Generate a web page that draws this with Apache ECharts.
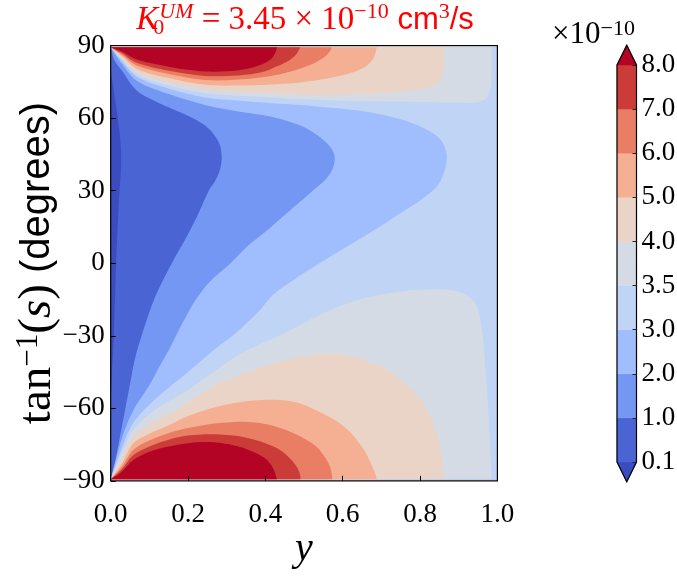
<!DOCTYPE html>
<html><head><meta charset="utf-8">
<script src="https://cdn.jsdelivr.net/npm/echarts@6/dist/echarts.min.js"></script>
<style>html,body{margin:0;padding:0;background:#fff}#c{width:677px;height:576px}</style>
</head><body><div id="c"></div>
<script>
// ---------- data ----------
const levels = [0.1, 1.0, 2.0, 3.0, 3.5, 4.0, 5.0, 6.0, 7.0, 8.0];
const levelLabels = ['0.1','1.0','2.0','3.0','3.5','4.0','5.0','6.0','7.0','8.0'];
// 0: below 0.1, 1: 0.1-1, 2: 1-2, 3: 2-3, 4: 3-3.5, 5: 3.5-4, 6: 4-5, 7: 5-6, 8: 6-7, 9: 7-8, 10: above 8
const bandColors = ['#3b4cc0','#4b64d4','#7597f4','#a0befd','#c0d4f5','#d5dbe5','#ead4c8','#f5b093','#e97e64','#cb3c38','#b40426'];
const xTicks = [0, 0.2, 0.4, 0.6, 0.8, 1.0];
const xTickLabels = ['0.0','0.2','0.4','0.6','0.8','1.0'];
const yTicks = [-90, -60, -30, 0, 30, 60, 90];
const yTickLabels = ['\u221290','\u221260','\u221230','0','30','60','90'];

// contour boundaries: [y, tan^-1(s) in degrees]
const underStrip = [[0,78],[0.004,75.5],[0.012,67],[0.02,58],[0.025,51],[0.027,44],[0.026,37],[0.022,28],[0.018,15],[0.014,0],[0.011,-15],[0.008,-30],[0.004,-43],[0.001,-52],[0,-55]];
const contour1 = [[0,89.4],[0.01,84],[0.03,79.5],[0.071,71],[0.15,64.5],[0.2,61],[0.244,57],[0.268,53],[0.282,49],[0.287,44],[0.283,39],[0.27,34],[0.252,29.5],[0.228,21],[0.2,12],[0.158,0],[0.115,-13.9],[0.08,-30],[0.062,-40],[0.05,-50],[0.038,-60],[0.026,-70],[0.014,-80],[0.005,-86.5],[0,-89.4]];
const contour2 = [[0,89.4],[0.03,82.3],[0.071,75.1],[0.15,70],[0.244,65.5],[0.33,62.8],[0.416,60.6],[0.49,57],[0.53,53.5],[0.56,49.5],[0.578,45],[0.576,40],[0.56,35.5],[0.53,31],[0.46,21.3],[0.4,13],[0.352,6.8],[0.31,0],[0.257,-7.5],[0.22,-15],[0.195,-22],[0.175,-28],[0.15,-36],[0.125,-43],[0.1,-50.5],[0.058,-61],[0.03,-72],[0,-89.4]];
const contour3 = [[0,89.4],[0.03,83.5],[0.071,76.9],[0.15,72.2],[0.244,68.6],[0.33,67.3],[0.416,66.2],[0.49,65.5],[0.57,64.3],[0.662,62.7],[0.74,60],[0.79,57.3],[0.834,53.7],[0.856,50.5],[0.867,46.5],[0.869,43],[0.862,37.5],[0.843,31.6],[0.8,26],[0.748,20.6],[0.68,13.5],[0.61,6.8],[0.54,0],[0.472,-7],[0.42,-13],[0.385,-19.5],[0.35,-25],[0.315,-30],[0.27,-35.5],[0.2,-45],[0.15,-51.5],[0.1,-58.5],[0.058,-66],[0.03,-76],[0,-89.4]];

const top35 = [[0,89.4],[0.03,84.2],[0.071,77.9],[0.15,73.5],[0.244,70.3],[0.33,69.3],[0.416,68.6],[0.49,67.8],[0.6,67.2],[0.7,66.9],[0.8,66.7],[0.88,66.5],[0.938,66.4],[0.965,67.5],[0.978,70],[0.984,75],[0.985,82],[0.985,89.4]];
const top4 = [[0,89.4],[0.03,84.7],[0.071,78.8],[0.15,74.8],[0.244,72],[0.33,71],[0.416,70.3],[0.49,69.7],[0.58,69.6],[0.66,70],[0.748,71],[0.8,72],[0.834,73.2],[0.852,75.5],[0.86,78.6],[0.862,84],[0.862,89.4]];
const top5 = [[0,89.4],[0.03,85.5],[0.071,80.2],[0.15,76.6],[0.244,73.8],[0.33,73.5],[0.416,74],[0.49,74.8],[0.56,76.4],[0.619,78.6],[0.66,81.5],[0.68,85],[0.688,89.4]];
const top6 = [[0,89.4],[0.03,86.2],[0.071,81.6],[0.15,78.3],[0.244,75.8],[0.33,76],[0.416,77.5],[0.47,79.5],[0.52,82.3],[0.553,85.3],[0.568,88],[0.571,89.4]];
const top7 = [[0,89.4],[0.03,86.8],[0.071,82.7],[0.15,79.6],[0.244,77.5],[0.33,77.7],[0.39,79],[0.43,81.5],[0.46,83.8],[0.48,86.5],[0.49,89.4]];
const top8 = [[0,89.4],[0.03,87.5],[0.071,84.1],[0.15,81.3],[0.2,80],[0.244,79.3],[0.3,79.4],[0.35,80.4],[0.39,82.2],[0.415,84.5],[0.427,87.5],[0.43,89.4]];

const bot35 = [[0,-89.4],[0.03,-78],[0.058,-69],[0.1,-62.5],[0.15,-57],[0.2,-52.5],[0.27,-44.5],[0.33,-38],[0.4,-32.5],[0.455,-28.5],[0.502,-24.5],[0.58,-18.5],[0.662,-14.2],[0.75,-11.7],[0.834,-10.8],[0.9,-11.8],[0.935,-15],[0.952,-20],[0.962,-30],[0.97,-45],[0.976,-60],[0.981,-75],[0.985,-89.4]];
const bot4 = [[0,-89.4],[0.03,-80],[0.058,-72],[0.1,-66.5],[0.15,-62.3],[0.2,-57.5],[0.27,-50.4],[0.3,-48.3],[0.356,-45],[0.43,-41],[0.5,-38.5],[0.559,-37.3],[0.62,-38.3],[0.68,-41.5],[0.72,-44.5],[0.755,-48.8],[0.79,-54],[0.817,-60.5],[0.835,-66.5],[0.848,-73],[0.856,-80],[0.86,-86],[0.861,-89.4]];
const bot5 = [[0,-89.4],[0.03,-82.5],[0.058,-74.6],[0.1,-70.5],[0.15,-67],[0.2,-63.2],[0.26,-60],[0.32,-57.8],[0.386,-56.6],[0.44,-56.6],[0.49,-58],[0.54,-61.5],[0.576,-64.5],[0.61,-68.5],[0.636,-73],[0.658,-78],[0.672,-82.5],[0.683,-86.5],[0.688,-89.4]];
const bot6 = [[0,-89.4],[0.03,-84],[0.058,-77.3],[0.1,-73.3],[0.15,-70.2],[0.2,-68.2],[0.25,-66.7],[0.3,-65.9],[0.345,-65.6],[0.4,-66.5],[0.455,-69.1],[0.5,-72.5],[0.533,-76],[0.555,-80.5],[0.567,-84.2],[0.572,-87.5],[0.573,-89.4]];
const bot7 = [[0,-89.4],[0.03,-85],[0.058,-79.4],[0.1,-75.8],[0.15,-73],[0.2,-71.3],[0.257,-70.7],[0.31,-71.2],[0.36,-72.5],[0.405,-74.8],[0.438,-77.3],[0.465,-81],[0.481,-84.2],[0.489,-87],[0.491,-89.4]];
const bot8 = [[0,-89.4],[0.03,-86],[0.058,-81.5],[0.1,-78],[0.15,-75.8],[0.2,-74.5],[0.231,-74],[0.275,-74.2],[0.317,-75.3],[0.35,-76.8],[0.378,-78.7],[0.4,-80.8],[0.413,-83],[0.423,-85.8],[0.428,-88.4],[0.43,-89.4]];

const dataBox = [[0,-89.4],[0,89.4],[1,89.4],[1,-89.4]];
const rightEdge = [[1,-89.4],[1,89.4]];

// ---------- drawing ----------
const SERIF = '"Liberation Serif", "DejaVu Serif", serif';
const SANS = '"Liberation Sans", "DejaVu Sans", sans-serif';

const regions = [
  {band: 1, pts: dataBox, straight: true},
  {band: 0, pts: underStrip},
  {band: 2, pts: contour1, close: rightEdge},
  {band: 3, pts: contour2, close: rightEdge},
  {band: 4, pts: contour3, close: rightEdge},
  {band: 5, pts: top35}, {band: 5, pts: bot35},
  {band: 6, pts: top4}, {band: 6, pts: bot4},
  {band: 7, pts: top5}, {band: 7, pts: bot5},
  {band: 8, pts: top6}, {band: 8, pts: bot6},
  {band: 9, pts: top7}, {band: 9, pts: bot7},
  {band: 10, pts: top8}, {band: 10, pts: bot8}
];

function f(n) { return n.toFixed(2); }
function buildPath(api, r) {
  const p = r.pts.map(v => api.coord(v));
  let d = 'M' + f(p[0][0]) + ' ' + f(p[0][1]);
  if (r.straight) {
    for (let i = 1; i < p.length; i++) d += ' L' + f(p[i][0]) + ' ' + f(p[i][1]);
    return d + ' Z';
  }
  for (let i = 0; i < p.length - 1; i++) {
    const p0 = p[i > 0 ? i - 1 : i], p1 = p[i], p2 = p[i + 1], p3 = p[i + 2 < p.length ? i + 2 : i + 1];
    const c1x = p1[0] + (p2[0] - p0[0]) / 6, c1y = p1[1] + (p2[1] - p0[1]) / 6;
    const c2x = p2[0] - (p3[0] - p1[0]) / 6, c2y = p2[1] - (p3[1] - p1[1]) / 6;
    d += ' C' + f(c1x) + ' ' + f(c1y) + ' ' + f(c2x) + ' ' + f(c2y) + ' ' + f(p2[0]) + ' ' + f(p2[1]);
  }
  (r.close || []).forEach(v => { const q = api.coord(v); d += ' L' + f(q[0]) + ' ' + f(q[1]); });
  return d + ' Z';
}

const EXT = 0.05 * (levels.length - 1); // colorbar extension length in band units

const chart = echarts.init(document.getElementById('c'), null, {renderer: 'canvas', width: 677, height: 576});

const option = {
  animation: false,
  backgroundColor: '#ffffff',
  grid: [
    {left: 110.7, top: 45.7, width: 386.7, height: 435.1, outerBoundsMode: 'none', containLabel: false},
    {left: 617, top: 65, width: 19.5, height: 397, outerBoundsMode: 'none', containLabel: false}
  ],
  xAxis: [
    {gridIndex: 0, type: 'value', min: 0, max: 1, interval: 0.2, z: 10,
     axisLine: {show: false, onZero: false}, splitLine: {show: false},
     axisTick: {show: true, inside: true, length: 5, lineStyle: {color: '#000', width: 1}},
     axisLabel: {margin: 21, color: '#000', fontSize: 27, fontFamily: SERIF,
       formatter: v => { const i = xTicks.findIndex(t => Math.abs(t - v) < 1e-9); return i >= 0 ? xTickLabels[i] : ''; }}},
    {gridIndex: 1, type: 'value', min: 0, max: 1, show: false}
  ],
  yAxis: [
    {gridIndex: 0, type: 'value', min: -90, max: 90, interval: 30, z: 10,
     axisLine: {show: false, onZero: false}, splitLine: {show: false},
     axisTick: {show: true, inside: true, length: 5, lineStyle: {color: '#000', width: 1}},
     axisLabel: {margin: 6, color: '#000', fontSize: 27, fontFamily: SERIF,
       formatter: v => { const i = yTicks.indexOf(v); return i >= 0 ? yTickLabels[i] : ''; }}},
    {gridIndex: 1, type: 'value', min: 0, max: levels.length - 1, interval: 1, position: 'right', z: 10,
     axisLine: {show: false, onZero: false}, splitLine: {show: false},
     axisTick: {show: true, inside: true, length: 4, lineStyle: {color: '#222', width: 1}},
     axisLabel: {margin: 5, color: '#000', fontSize: 27, fontFamily: SERIF,
       formatter: v => levelLabels[Math.round(v)]}}
  ],
  series: [
    {type: 'custom', xAxisIndex: 0, yAxisIndex: 0, silent: true, z: 2,
     data: regions.map(r => r.pts[0]),
     renderItem: (params, api) => {
       const r = regions[params.dataIndex];
       return {type: 'path', shape: {pathData: buildPath(api, r)}, style: {fill: bandColors[r.band], stroke: null}};
     }},
    {type: 'custom', xAxisIndex: 0, yAxisIndex: 0, silent: true, z: 3,
     data: [[0, 0]],
     renderItem: (params, api) => {
       const a = api.coord([0, 90]), b = api.coord([1, -90]);
       return {type: 'rect', shape: {x: a[0], y: a[1], width: b[0] - a[0], height: b[1] - a[1]},
               style: {fill: 'none', stroke: '#000', lineWidth: 1.2}};
     }},
    {type: 'custom', xAxisIndex: 1, yAxisIndex: 1, silent: true, z: 2,
     data: bandColors.map((c, i) => [0, i]),
     renderItem: (params, api) => {
       const i = params.dataIndex, n = levels.length - 1;
       let pts;
       if (i === 0) pts = [[0, 0], [1, 0], [0.5, -EXT]];
       else if (i === bandColors.length - 1) pts = [[0, n], [1, n], [0.5, n + EXT]];
       else pts = [[0, i - 1], [1, i - 1], [1, i], [0, i]];
       return {type: 'polygon', shape: {points: pts.map(v => api.coord(v))},
               style: {fill: bandColors[i], stroke: bandColors[i], lineWidth: 0.5}};
     }},
    {type: 'custom', xAxisIndex: 1, yAxisIndex: 1, silent: true, z: 4,
     data: [[0, 0]],
     renderItem: (params, api) => {
       const n = levels.length - 1;
       const pts = [[0, 0], [0.5, -EXT], [1, 0], [1, n], [0.5, n + EXT], [0, n]];
       return {type: 'polygon', shape: {points: pts.map(v => api.coord(v))},
               style: {fill: 'none', stroke: '#000', lineWidth: 1.2}};
     }}
  ],
  graphic: [
    {type: 'text', x: 305, y: 20, z: 20, silent: true,
     style: {text: '{k|K}{s0|0}{sup|UM}{n| = 3.45 \u00d7 10}{sup2|\u221210}{sf| cm}{sup2|3}{sf|/s}',
       align: 'center', verticalAlign: 'middle', fill: '#ff0000',
       rich: {
         k: {font: 'italic 33px ' + SERIF, fill: '#ff0000', lineHeight: 38},
         s0: {font: '22px ' + SERIF, fill: '#ff0000', lineHeight: 22, verticalAlign: 'bottom', width: 1},
         sup: {font: 'italic 22px ' + SERIF, fill: '#ff0000', lineHeight: 22, verticalAlign: 'top'},
         sup2: {font: '22px ' + SERIF, fill: '#ff0000', lineHeight: 22, verticalAlign: 'top'},
         n: {font: '33px ' + SERIF, fill: '#ff0000', lineHeight: 38},
         sf: {font: '31px ' + SANS, fill: '#ff0000', lineHeight: 38}
       }}},
    {type: 'text', x: 552, y: 35, z: 20, silent: true,
     style: {text: '{a|\u00d710}{b|\u221210}', align: 'left', verticalAlign: 'middle', fill: '#000',
       rich: {
         a: {font: '31px ' + SERIF, fill: '#000', lineHeight: 34},
         b: {font: '22px ' + SERIF, fill: '#000', lineHeight: 22, verticalAlign: 'top'}
       }}},
    {type: 'text', x: 304, y: 549, z: 20, silent: true,
     style: {text: 'y', font: 'italic 40px ' + SERIF, fill: '#000', align: 'center', verticalAlign: 'middle'}},
    {type: 'text', x: 38, y: 263, rotation: Math.PI / 2, z: 20, silent: true,
     style: {text: '{a|tan}{sup|\u22121}{a|(}{i|s}{a|)}{sf| (degrees)}', align: 'center', verticalAlign: 'middle', fill: '#000',
       rich: {
         a: {font: '47px ' + SERIF, fill: '#000', lineHeight: 50},
         i: {font: 'italic 47px ' + SERIF, fill: '#000', lineHeight: 50},
         sup: {font: '31px ' + SERIF, fill: '#000', lineHeight: 31, verticalAlign: 'top'},
         sf: {font: '40px ' + SANS, fill: '#000', lineHeight: 50}
       }}}
  ]
};
chart.setOption(option);
</script>
</body></html>
